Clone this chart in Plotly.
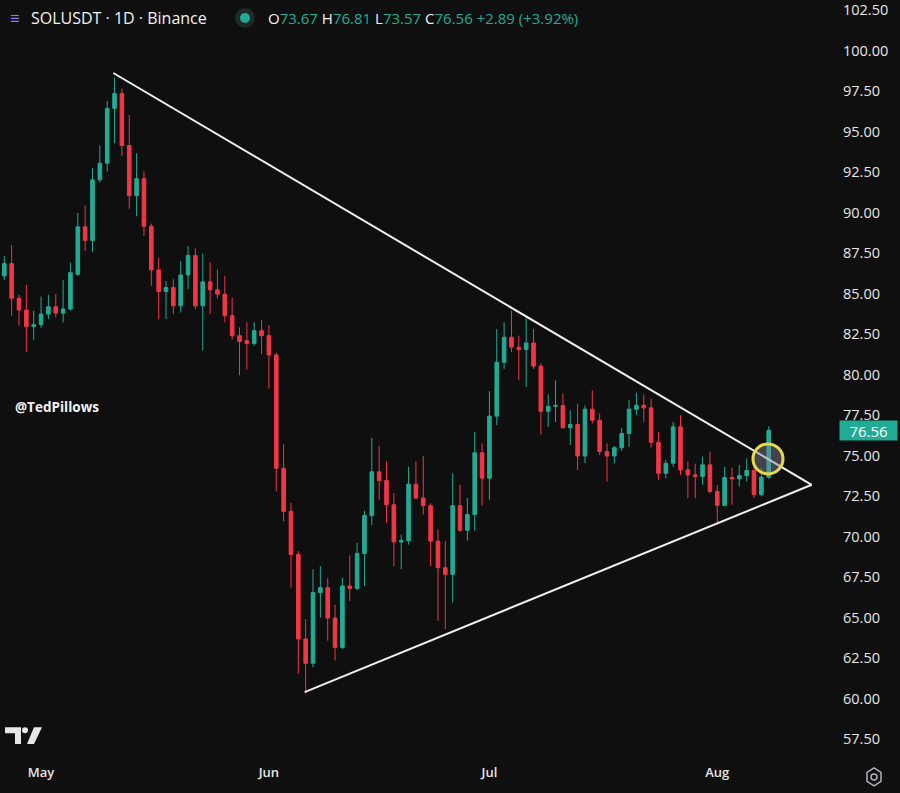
import pandas as pd
import plotly.graph_objects as go

# daily candles, SOLUSDT, starting 26 Apr
start_day = "2024-04-26"
opens = [86.10, 86.86, 84.72, 83.99, 82.97, 83.09, 83.74, 84.19, 83.80, 84.05,
         86.20, 89.13, 88.29, 92.03, 93.06, 96.44, 97.36, 94.15, 91.05, 92.10,
         89.17, 86.47, 85.14, 85.38, 84.25, 86.16, 87.36, 84.25, 85.73, 85.24,
         84.97, 83.64, 82.41, 82.10, 81.93, 82.72, 82.41, 81.22, 74.22, 71.56,
         68.90, 63.68, 62.18, 66.54, 66.85, 64.97, 63.16, 66.95, 66.80, 68.96,
         71.30, 74.00, 73.46, 71.97, 69.67, 69.75, 73.24, 72.38, 71.91, 69.72,
         68.08, 67.67, 71.91, 70.39, 71.36, 75.18, 73.61, 77.44, 80.77, 82.31,
         81.70, 81.55, 81.96, 80.53, 77.74, 78.05, 78.10, 76.72, 76.92, 74.98,
         77.87, 77.19, 75.25, 74.98, 75.49, 76.37, 77.87, 78.11, 77.95, 75.82,
         73.91, 74.53, 76.78, 74.12, 73.81, 73.71, 74.43, 72.79, 71.93, 73.65,
         73.57, 73.77, 74.08, 72.59, 73.67]
highs = [87.33, 88.00, 84.93, 85.55, 83.95, 84.83, 84.93, 84.97, 85.85, 86.92,
         89.99, 90.44, 92.75, 94.15, 96.90, 98.34, 97.67, 96.03, 93.67, 92.55,
         89.33, 87.22, 85.79, 85.89, 87.02, 87.94, 87.80, 87.47, 86.96, 86.50,
         86.10, 84.77, 82.92, 83.23, 83.23, 83.37, 83.07, 81.35, 75.70, 72.07,
         69.10, 64.90, 67.98, 68.18, 67.43, 65.79, 67.46, 68.84, 69.61, 71.60,
         76.10, 75.60, 74.63, 72.69, 70.13, 74.32, 74.67, 74.98, 72.07, 70.44,
         69.72, 73.91, 73.20, 72.38, 76.47, 75.76, 78.97, 82.82, 83.23, 83.95,
         82.41, 83.54, 82.82, 80.70, 78.77, 79.65, 78.83, 77.80, 78.21, 78.10,
         79.03, 77.60, 75.76, 75.60, 76.72, 78.42, 78.89, 78.77, 78.52, 76.47,
         74.74, 77.09, 77.50, 74.63, 74.50, 74.94, 75.25, 73.20, 74.32, 74.26,
         74.43, 74.83, 74.30, 74.22, 76.81]
lows = [85.85, 83.64, 83.03, 81.39, 82.14, 82.90, 83.43, 83.54, 83.23, 83.95,
        86.10, 87.63, 87.57, 91.87, 92.55, 94.29, 93.50, 90.25, 89.78, 88.56,
        85.49, 83.43, 83.43, 83.74, 83.84, 85.28, 84.05, 81.49, 83.74, 84.70,
        83.23, 82.17, 79.96, 80.33, 81.80, 81.28, 79.14, 72.79, 70.95, 66.85,
        61.53, 60.30, 61.93, 65.00, 63.58, 62.35, 63.06, 66.03, 66.69, 66.95,
        70.70, 72.28, 70.84, 68.18, 67.98, 69.51, 72.30, 71.36, 68.18, 64.80,
        64.29, 65.93, 70.30, 69.76, 70.37, 71.93, 72.28, 76.89, 80.36, 81.39,
        79.65, 79.24, 80.36, 76.31, 76.78, 77.09, 76.68, 75.66, 74.12, 74.53,
        76.99, 75.04, 73.40, 74.53, 75.30, 75.55, 77.50, 77.09, 75.49, 73.50,
        73.60, 74.30, 73.81, 72.38, 72.38, 73.20, 72.69, 70.74, 71.87, 71.97,
        73.10, 73.40, 72.38, 72.48, 73.57]
closes = [86.86, 84.72, 83.99, 82.97, 83.09, 83.74, 84.19, 83.80, 84.05, 86.30,
          89.13, 88.29, 92.03, 93.06, 96.44, 97.36, 94.15, 91.05, 92.10, 89.17,
          86.47, 85.14, 85.38, 84.25, 86.16, 87.36, 84.25, 85.73, 85.24, 84.97,
          83.64, 82.41, 82.05, 81.93, 82.72, 82.41, 81.22, 74.22, 71.56, 68.90,
          63.68, 62.18, 66.54, 66.85, 64.97, 63.16, 66.95, 66.80, 68.96, 71.30,
          74.00, 73.46, 71.97, 69.67, 69.75, 73.24, 72.38, 71.91, 69.72, 68.08,
          67.67, 71.91, 70.39, 71.36, 75.18, 73.61, 77.44, 80.77, 82.31, 81.70,
          81.55, 81.96, 80.53, 77.74, 78.05, 78.10, 76.72, 76.92, 74.98, 77.87,
          77.19, 75.25, 74.98, 75.49, 76.37, 77.87, 78.11, 77.95, 75.82, 73.91,
          74.53, 76.78, 74.12, 73.81, 73.71, 74.43, 72.79, 71.93, 73.65, 73.57,
          73.77, 74.08, 72.59, 73.67, 76.56]

# triangle drawn on the chart (day offsets from start_day, price)
upper_days = [14.83, 109.85]
upper_price = [98.63, 73.20]
lower_days = [40.86, 109.85]
lower_price = [60.40, 73.20]
circle_day = [103.9]
circle_price = [74.80]

month_ticks = ["2024-05-01", "2024-06-01", "2024-07-01", "2024-08-01"]
month_labels = ["May", "Jun", "Jul", "Aug"]
price_ticks = [57.5, 60, 62.5, 65, 67.5, 70, 72.5, 75, 77.5, 80, 82.5,
               85, 87.5, 90, 92.5, 95, 97.5, 100, 102.5]
last_price = 76.56

GREEN = "#22ab94"
RED = "#f23645"
BG = "#0f0f0f"
TXT = "#e6e6e6"
FONT = "Open Sans"

base = pd.Timestamp(start_day)
dates = pd.date_range(start_day, periods=len(opens), freq="D")


def day(k):
    return base + pd.Timedelta(days=k)


# plot pane size in px (used to place the decorations)
PW, PH = 832, 763


def px(x):
    return x / PW


def py(y):
    return 1 - y / PH


fig = go.Figure()
fig.add_trace(go.Candlestick(
    x=dates, open=opens, high=highs, low=lows, close=closes,
    increasing=dict(line=dict(color=GREEN, width=1), fillcolor=GREEN),
    decreasing=dict(line=dict(color=RED, width=1), fillcolor=RED),
    hoverinfo="skip", showlegend=False))

fig.add_trace(go.Scatter(x=[day(k) for k in upper_days], y=upper_price, mode="lines",
                         line=dict(color="#f0f0f0", width=2), hoverinfo="skip", showlegend=False))
fig.add_trace(go.Scatter(x=[day(k) for k in lower_days], y=lower_price, mode="lines",
                         line=dict(color="#f0f0f0", width=2), hoverinfo="skip", showlegend=False))
fig.add_trace(go.Scatter(x=[day(k) for k in circle_day], y=circle_price, mode="markers",
                         marker=dict(size=30, color="rgba(130,130,150,0.45)",
                                     line=dict(color="#e8d94a", width=3)),
                         hoverinfo="skip", showlegend=False))

# header
fig.add_annotation(xref="paper", yref="paper", x=px(8), y=py(14), xanchor="left", yanchor="middle",
                   text="<b>≡</b>", showarrow=False, font=dict(size=17, color="#8f7cf0"))
fig.add_annotation(xref="paper", yref="paper", x=px(29), y=py(14), xanchor="left", yanchor="middle",
                   text="SOLUSDT · 1D · Binance", showarrow=False,
                   font=dict(size=16, color="#f2f2f2", family=FONT, weight=500))
fig.add_shape(type="circle", xref="paper", yref="paper", xsizemode="pixel", ysizemode="pixel",
              xanchor=px(245), yanchor=py(14), x0=-10, x1=10, y0=-10, y1=10,
              fillcolor="#1f2a28", line=dict(width=0))
fig.add_shape(type="circle", xref="paper", yref="paper", xsizemode="pixel", ysizemode="pixel",
              xanchor=px(245), yanchor=py(14), x0=-5, x1=5, y0=-5, y1=5,
              fillcolor=GREEN, line=dict(width=0))
ohlc_text = ("O<span style='color:%s'>%.2f</span> H<span style='color:%s'>%.2f</span> "
             "L<span style='color:%s'>%.2f</span> C<span style='color:%s'>%.2f</span> "
             "<span style='color:%s'>+%.2f (+%.2f%%)</span>") % (
    GREEN, opens[-1], GREEN, highs[-1], GREEN, lows[-1], GREEN, closes[-1],
    GREEN, closes[-1] - closes[-2], (closes[-1] - closes[-2]) / closes[-2] * 100)
fig.add_annotation(xref="paper", yref="paper", x=px(266), y=py(14), xanchor="left", yanchor="middle",
                   text=ohlc_text, showarrow=False, font=dict(size=15, color="#f2f2f2", family=FONT))

# watermark
fig.add_annotation(xref="paper", yref="paper", x=px(13), y=py(405), xanchor="left", yanchor="middle",
                   text="<b>@TedPillows</b>", showarrow=False,
                   font=dict(size=13.5, color="#f2f2f2", family=FONT))

# last price tag
fig.add_annotation(xref="paper", yref="y", x=px(839), y=last_price, xanchor="left", yanchor="middle",
                   text="%.2f" % last_price, showarrow=False, bgcolor=GREEN, width=55, height=17,
                   font=dict(size=15, color="#ffffff", family=FONT))

# TradingView logo
fig.add_shape(type="path", xref="paper", yref="paper", fillcolor="#e6e6e6", line=dict(width=0),
              path="M %f %f L %f %f L %f %f L %f %f L %f %f L %f %f Z" % (
                  px(5), py(727), px(21), py(727), px(21), py(744),
                  px(15), py(744), px(15), py(733), px(5), py(733)))
fig.add_shape(type="circle", xref="paper", yref="paper", fillcolor="#e6e6e6", line=dict(width=0),
              x0=px(22), x1=px(28), y0=py(733), y1=py(727))
fig.add_shape(type="path", xref="paper", yref="paper", fillcolor="#e6e6e6", line=dict(width=0),
              path="M %f %f L %f %f L %f %f L %f %f Z" % (
                  px(34), py(727), px(42), py(727), px(34), py(744), px(27), py(744)))

# settings icon, bottom right
fig.add_shape(type="path", xref="paper", yref="paper", line=dict(color="#b0b3ba", width=1.5),
              path="M %f %f L %f %f L %f %f L %f %f L %f %f L %f %f Z" % (
                  px(874), py(768), px(881), py(772.5), px(881), py(781.5),
                  px(874), py(786), px(867), py(781.5), px(867), py(772.5)))
fig.add_shape(type="circle", xref="paper", yref="paper", line=dict(color="#b0b3ba", width=1.5),
              x0=px(871), x1=px(877), y0=py(780), y1=py(774))

fig.update_layout(
    width=900, height=793,
    paper_bgcolor=BG, plot_bgcolor=BG,
    margin=dict(l=0, r=68, t=0, b=30),
    font=dict(family=FONT, color=TXT),
    showlegend=False,
    xaxis=dict(type="date", rangeslider=dict(visible=False),
               range=[day(-0.585), day(112.61)],
               tickvals=month_ticks, ticktext=month_labels,
               tickfont=dict(size=13, color=TXT, weight=600),
               showgrid=False, zeroline=False, showline=False, ticks=""),
    yaxis=dict(side="right", range=[56.02, 102.89],
               tickvals=price_ticks, ticktext=["%.2f" % v for v in price_ticks],
               tickfont=dict(size=14.5, color=TXT),
               ticklabeloverflow="allow",
               showgrid=False, zeroline=False, showline=False, ticks="", ticklabelstandoff=10),
)

fig.write_html("out.html", config={"displayModeBar": False},
               post_script="document.body.style.margin='0';document.body.style.background='#0f0f0f';")
